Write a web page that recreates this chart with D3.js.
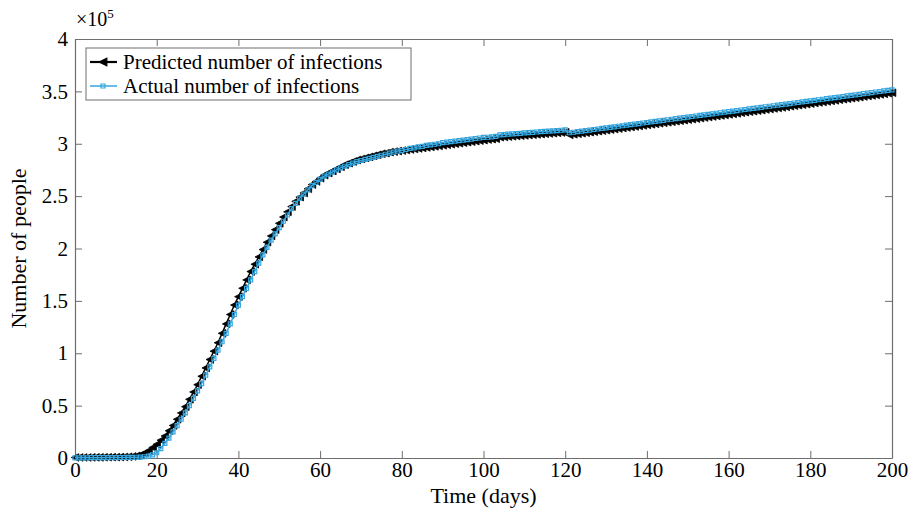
<!DOCTYPE html>
<html><head><meta charset="utf-8">
<script src="https://cdn.jsdelivr.net/npm/d3@7/dist/d3.min.js"></script>
<style>body{margin:0;background:#fff}svg{display:block}svg text{font-family:'Times New Roman','Liberation Serif',Times,'DejaVu Serif',serif !important;fill:#000}</style>
</head><body>
<svg id="c" width="908" height="510"></svg>
<script>
// Values in units of 10^5 people, one per day (day 0..200)
const actual = [].concat(
 [0.002,0.002,0.002,0.002,0.003,0.003,0.003,0.003,0.004,0.004,0.004,0.005,0.005,0.006,0.006],
 [0.007,0.009,0.012,0.018,0.03,0.05,0.09,0.14,0.19,0.25,0.31,0.37,0.43,0.50,0.57],
 [0.64,0.71,0.79,0.87,0.95,1.03,1.11,1.19,1.28,1.37,1.46,1.54,1.62,1.70,1.78],
 [1.86,1.94,2.01,2.08,2.14,2.20,2.26,2.32,2.38,2.43,2.48,2.52,2.56,2.60,2.63],
 [2.66,2.69,2.71,2.73,2.75,2.77,2.785,2.80,2.815,2.83,2.84,2.85,2.86,2.87,2.88],
 [2.89,2.90,2.91,2.92,2.93,2.935,2.945,2.955,2.96,2.97,2.975,2.985,2.99,2.995,3.00],
 [3.01,3.015,3.02,3.025,3.03,3.035,3.04,3.045,3.05,3.055,3.06,3.062,3.066,3.07],
 [3.085,3.088,3.091,3.094,3.097,3.10,3.103,3.106,3.109,3.112,3.115,3.118,3.12,3.123,3.126,3.129,3.132],
 [3.105,3.110,3.115,3.120,3.126,3.131,3.136,3.141,3.146,3.151,3.157,3.162,3.167,3.172,3.177,3.182,3.188,3.193,3.198,3.203],
 [3.208,3.213,3.219,3.224,3.229,3.234,3.239,3.244,3.250,3.255,3.260,3.265,3.270,3.275,3.281,3.286,3.291,3.296,3.301,3.306],
 [3.312,3.317,3.322,3.327,3.332,3.337,3.343,3.348,3.353,3.358,3.363,3.368,3.374,3.379,3.384,3.389,3.394,3.399,3.405,3.410],
 [3.415,3.420,3.425,3.431,3.436,3.441,3.446,3.451,3.457,3.462,3.467,3.472,3.478,3.483,3.488,3.494,3.499,3.504,3.510,3.515]
);
const predicted = [].concat(
 [0.005,0.005,0.005,0.005,0.006,0.006,0.006,0.007,0.007,0.008,0.008,0.009,0.010,0.012,0.015],
 [0.02,0.03,0.045,0.07,0.10,0.13,0.17,0.21,0.26,0.31,0.37,0.43,0.49,0.56,0.63],
 [0.70,0.78,0.86,0.94,1.02,1.10,1.19,1.28,1.37,1.46,1.54,1.62,1.70,1.78,1.85],
 [1.92,1.99,2.06,2.12,2.18,2.24,2.30,2.35,2.40,2.45,2.49,2.53,2.57,2.61,2.64],
 [2.67,2.70,2.72,2.74,2.76,2.78,2.80,2.815,2.83,2.845,2.855,2.865,2.875,2.885,2.895],
 [2.905,2.91,2.92,2.925,2.93,2.935,2.94,2.945,2.95,2.955,2.96,2.965,2.97,2.975,2.98],
 [2.985,2.99,2.995,3.00,3.005,3.01,3.015,3.02,3.025,3.03,3.035,3.04,3.044,3.048],
 [3.062,3.065,3.068,3.071,3.074,3.077,3.08,3.083,3.086,3.089,3.092,3.095,3.098,3.101,3.104,3.107,3.110],
 [3.085,3.090,3.095,3.100,3.105,3.110,3.115,3.120,3.125,3.130,3.135,3.140,3.145,3.150,3.155,3.160,3.165,3.170,3.175,3.180],
 [3.185,3.190,3.195,3.200,3.205,3.210,3.215,3.220,3.225,3.230,3.235,3.240,3.245,3.250,3.255,3.260,3.265,3.270,3.275,3.280],
 [3.285,3.290,3.296,3.301,3.306,3.311,3.316,3.321,3.327,3.332,3.337,3.342,3.347,3.352,3.358,3.363,3.368,3.373,3.378,3.383],
 [3.389,3.394,3.399,3.404,3.409,3.414,3.420,3.425,3.430,3.435,3.440,3.445,3.451,3.456,3.461,3.466,3.471,3.476,3.482,3.487]
);
const xTicks = [0,20,40,60,80,100,120,140,160,180,200];
const yTicks = [0,0.5,1,1.5,2,2.5,3,3.5,4];
const yTickLabels = ["0","0.5","1","1.5","2","2.5","3","3.5","4"];
const seriesNames = ["Predicted number of infections","Actual number of infections"];

const svg = d3.select("#c");
const L=75,R=892,T=39,B=458;
const x = d3.scaleLinear().domain([0,200]).range([L,R]);
const y = d3.scaleLinear().domain([0,4]).range([B,T]);
const axisColor="#6e6e6e";

// axes
const fmtY = d=>yTickLabels[yTicks.indexOf(d)];
const gx = svg.append("g").attr("transform",`translate(0,${B})`)
  .call(d3.axisBottom(x).tickValues(xTicks).tickSizeInner(-7).tickSizeOuter(0).tickPadding(4));
const gxt = svg.append("g").attr("transform",`translate(0,${T})`)
  .call(d3.axisTop(x).tickValues(xTicks).tickSizeInner(-7).tickSizeOuter(0).tickFormat(""));
const gy = svg.append("g").attr("transform",`translate(${L},0)`)
  .call(d3.axisLeft(y).tickValues(yTicks).tickFormat(fmtY).tickSizeInner(-7).tickSizeOuter(0).tickPadding(7));
const gyr = svg.append("g").attr("transform",`translate(${R},0)`)
  .call(d3.axisRight(y).tickValues(yTicks).tickFormat("").tickSizeInner(-7).tickSizeOuter(0));
[gx,gxt,gy,gyr].forEach(g=>{
  g.attr("font-size",null).attr("font-family",null);
  g.selectAll("path.domain").attr("stroke",axisColor).attr("stroke-width",1.2);
  g.selectAll(".tick line").attr("stroke",axisColor).attr("stroke-width",1);
  g.selectAll(".tick text").style("font-size","21px").attr("fill","#000");
});
gx.selectAll(".tick text").attr("dy","0.71em");

// exponent label
const ex = svg.append("text").attr("x",76).attr("y",26).style("font-size","20px");
ex.append("tspan").text("×10");
ex.append("tspan").style("font-size","13px").attr("dy",-8).text("5");

// axis titles
svg.append("text").attr("x",(L+R)/2).attr("y",503).attr("text-anchor","middle").style("font-size","22px").text("Time (days)");
svg.append("text").attr("transform",`translate(26,${(T+B)/2}) rotate(-90)`).attr("text-anchor","middle").style("font-size","22px").text("Number of people");

const tri = r => `M${-r},0L${r},${-r}L${r},${r}Z`;
const sq = s => `M${-s},${-s}h${2*s}v${2*s}h${-2*s}Z`;
const blue="#35a7e0";

const line = d3.line().x((d,i)=>x(i)).y(d=>y(d));
const plot = svg.append("g");
// predicted
plot.append("path").attr("d",line(predicted)).attr("fill","none").attr("stroke","#000").attr("stroke-width",1.5);
plot.append("g").selectAll("path").data(predicted).join("path")
  .attr("transform",(d,i)=>`translate(${x(i)},${y(d)})`).attr("d",tri(3.8))
  .attr("fill","#000").attr("stroke","#000").attr("stroke-width",0.8);
// actual
plot.append("path").attr("d",line(actual)).attr("fill","none").attr("stroke",blue).attr("stroke-width",1.5);
plot.append("g").selectAll("path").data(actual).join("path")
  .attr("transform",(d,i)=>`translate(${x(i)},${y(d)})`).attr("d",sq(2))
  .attr("fill","none").attr("stroke",blue).attr("stroke-width",1.2);

// legend
const lg = svg.append("g");
lg.append("rect").attr("x",86).attr("y",48).attr("width",325).attr("height",52).attr("fill","#fff").attr("stroke",axisColor).attr("stroke-width",1);
const rows=[{y:62,c:"#000",m:"tri"},{y:86,c:blue,m:"sq"}];
rows.forEach((r,i)=>{
  lg.append("line").attr("x1",90).attr("x2",117).attr("y1",r.y).attr("y2",r.y).attr("stroke",r.c).attr("stroke-width",r.m==="tri"?2.2:1.5);
  lg.append("path").attr("transform",`translate(103,${r.y})`).attr("d",r.m==="tri"?tri(3.8):sq(2))
    .attr("fill",r.m==="tri"?"#000":"none").attr("stroke",r.c).attr("stroke-width",1.2);
  lg.append("text").attr("x",123).attr("y",r.y+7).style("font-size","21px").text(seriesNames[i]);
});
</script>
</body></html>
